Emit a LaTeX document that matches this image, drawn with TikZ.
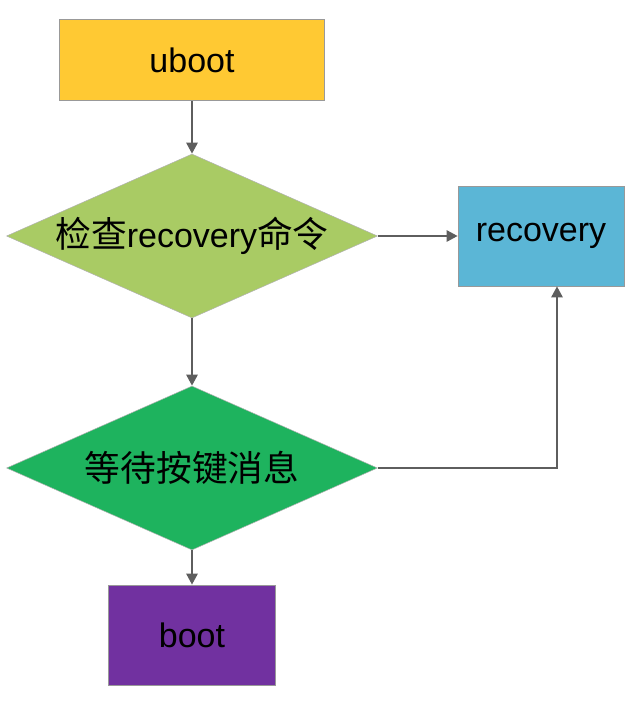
\documentclass[tikz,border=0pt]{standalone}
\usepackage{fontspec}
\setmainfont{Liberation Sans}
\newfontfamily\cjk[Scale=1.05]{Noto Sans CJK SC}
\usepackage{tikz}
\usetikzlibrary{arrows.meta}
\usetikzlibrary{shapes.geometric}

\definecolor{ubootfill}{HTML}{FFC933}
\definecolor{checkfill}{HTML}{A9CB64}
\definecolor{recfill}{HTML}{5BB6D6}
\definecolor{waitfill}{HTML}{1EB35E}
\definecolor{bootfill}{HTML}{7131A0}
\definecolor{linegray}{HTML}{5E5E5E}

\begin{document}
\begin{tikzpicture}[x=1pt, y=-1pt,
        font=\fontsize{34}{40}\selectfont,
        box/.style={rectangle, draw=gray!80, line width=0.6pt, inner sep=0pt},
        decision/.style={diamond, draw=gray!60, line width=0.5pt, inner sep=0pt,
            minimum width=371pt, minimum height=164pt, shape aspect=2.26},
        flow/.style={draw=linegray, line width=2.5pt, -{Triangle[length=11pt,width=11pt]}}]
        \useasboundingbox (0, 0) rectangle (644, 725);
        \node [box, fill=ubootfill, minimum width=265pt, minimum height=81pt] (uboot) at (192, 60) {uboot};
        \node [decision, fill=checkfill] (check) at (192, 236) {{\cjk 检查}recovery{\cjk 命令}};
        \node [box, fill=recfill, minimum width=166pt, minimum height=100pt] (rec) at (541, 236) {recovery};
        \node [decision, fill=waitfill] (wait) at (192, 468) {\cjk 等待按键消息};
        \node [box, fill=bootfill, minimum width=167pt, minimum height=100pt] (boot) at (192, 635) {boot};
        \draw [flow] (uboot) -- (check);
        \draw [flow] (check) -- (rec);
        \draw [flow] (check) -- (wait);
        % key pressed: up into recovery
        \draw [flow] (wait.east) -| ([xshift=16pt]rec.south);
        \draw [flow] (wait) -- (boot);
    \end{tikzpicture}
\end{document}
